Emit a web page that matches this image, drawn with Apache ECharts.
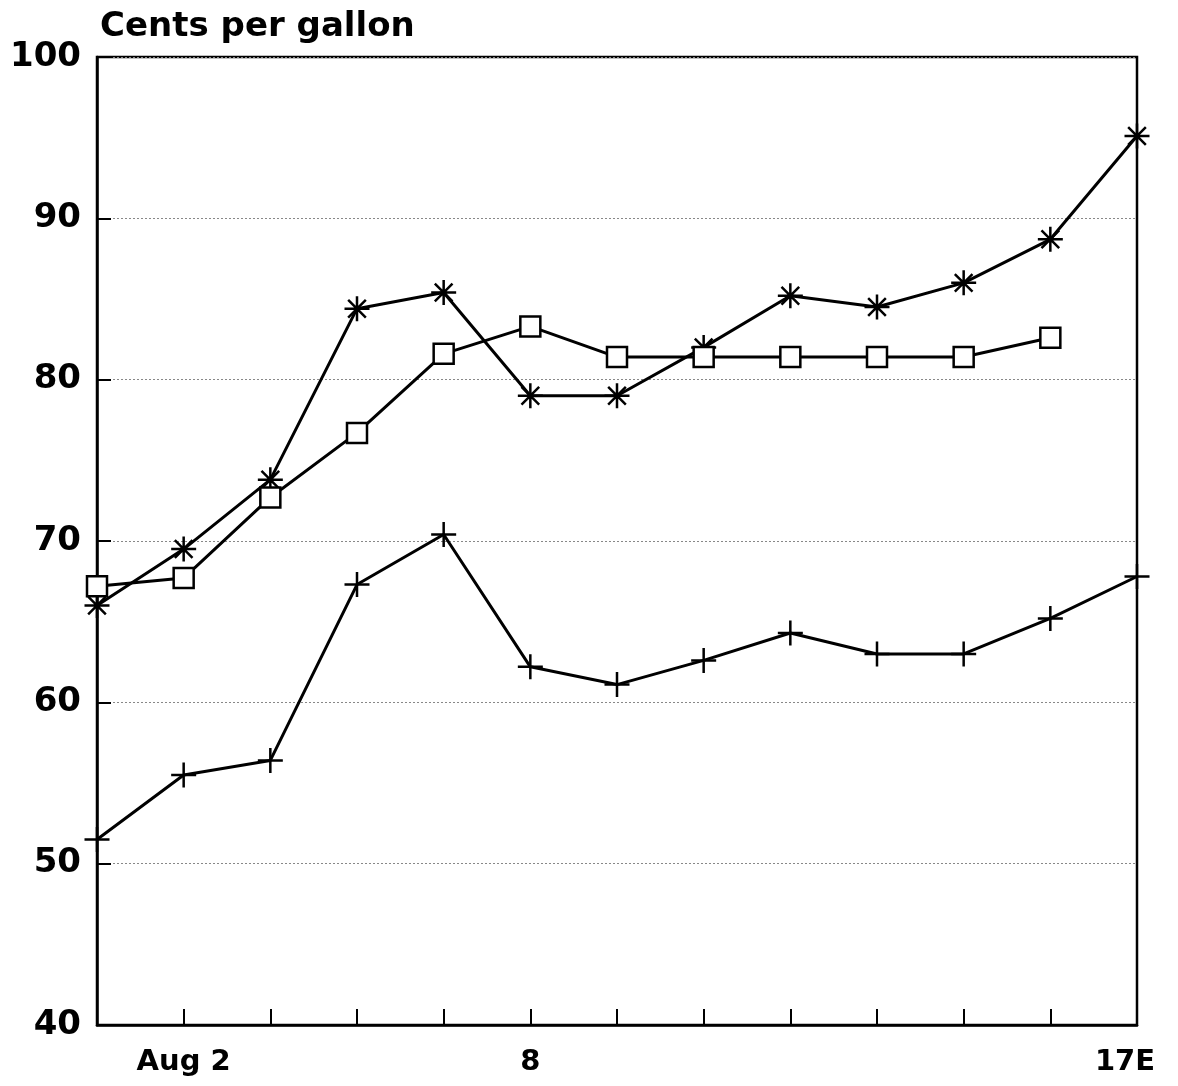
<!DOCTYPE html>
<html>
<head>
<meta charset="utf-8">
<script src="https://cdn.jsdelivr.net/npm/echarts@6/dist/echarts.min.js"></script>
<style>
    html, body { margin: 0; padding: 0; background: #fff; }
    #main { width: 1178px; height: 1086px; }
</style>
</head>
<body>
<div id="main"></div>
<script>
// trading days, Aug 1 - Aug 17
var days = ['Aug 1', 'Aug 2', 'Aug 3', 'Aug 6', 'Aug 7', 'Aug 8', 'Aug 9', 'Aug 10', 'Aug 13', 'Aug 14', 'Aug 15', 'Aug 16', 'Aug 17'];
var shownLabels = { 1: 'Aug 2', 5: '8', 12: '{e|17E}' };

var starValues = [66.0, 69.5, 73.8, 84.4, 85.4, 79.0, 79.0, 82.0, 85.2, 84.5, 86.0, 88.7, 95.1];
var squareValues = [67.2, 67.7, 72.7, 76.7, 81.6, 83.3, 81.4, 81.4, 81.4, 81.4, 81.4, 82.6, null];
var plusValues = [51.5, 55.5, 56.4, 67.3, 70.4, 62.2, 61.1, 62.6, 64.3, 63.0, 63.0, 65.2, 67.8];

var yTicks = [40, 50, 60, 70, 80, 90, 100];

var fontName = 'DejaVu Sans';
var starPath = 'path://M0,-10L0,10M-10,0L10,0M-7.07,-7.07L7.07,7.07M-7.07,7.07L7.07,-7.07';
var plusPath = 'path://M0,-10L0,10M-10,0L10,0';

function lineSeries(name, values, symbol, size, fill) {
    return {
        name: name,
        type: 'line',
        data: values,
        symbol: symbol,
        symbolSize: size,
        showAllSymbol: true,
        clip: false,
        lineStyle: { color: '#000', width: 3 },
        itemStyle: { color: fill, borderColor: '#000', borderWidth: 2.5 },
        emphasis: { disabled: true },
        z: 3
    };
}

var myChart = echarts.init(document.getElementById('main'));

var option = {
    backgroundColor: '#fff',
    animation: false,
    title: {
        text: 'Cents per gallon',
        left: 95,
        top: 5,
        textStyle: {
            color: '#000',
            fontFamily: fontName,
            fontSize: 34,
            fontWeight: 'bold'
        }
    },
    grid: {
        left: 97,
        right: 41,
        top: 57,
        bottom: 61,
        show: true,
        borderColor: '#000',
        borderWidth: 2.5,
        backgroundColor: 'transparent'
    },
    xAxis: {
        type: 'category',
        data: days,
        boundaryGap: false,
        axisLine: { show: true, lineStyle: { color: '#000', width: 2.5 } },
        axisTick: { show: true, inside: true, length: 16, interval: 0, lineStyle: { color: '#000', width: 2 } },
        axisLabel: {
            interval: 0,
            margin: 23,
            color: '#000',
            fontFamily: fontName,
            fontSize: 29,
            fontWeight: 'bold',
            formatter: function (val, idx) {
                return shownLabels[idx] || '';
            },
            rich: {
                e: {
                    color: '#000',
                    fontFamily: fontName,
                    fontSize: 29,
                    fontWeight: 'bold',
                    padding: [0, 24, 0, 0]
                }
            }
        },
        splitLine: { show: false }
    },
    yAxis: {
        type: 'value',
        min: yTicks[0],
        max: yTicks[yTicks.length - 1],
        interval: 10,
        axisLine: { show: true, lineStyle: { color: '#000', width: 2.5 } },
        axisTick: { show: true, inside: true, length: 14, lineStyle: { color: '#000', width: 2 } },
        axisLabel: {
            margin: 16,
            color: '#000',
            fontFamily: fontName,
            fontSize: 34,
            fontWeight: 'bold'
        },
        splitLine: {
            show: true,
            lineStyle: { color: '#888', width: 1, type: [2, 2] }
        }
    },
    series: [
        lineSeries('Series A', starValues, starPath, 25, '#000'),
        lineSeries('Series B', squareValues, 'rect', 20, '#fff'),
        lineSeries('Series C', plusValues, plusPath, 25, '#000')
    ]
};

myChart.setOption(option);
</script>
</body>
</html>
